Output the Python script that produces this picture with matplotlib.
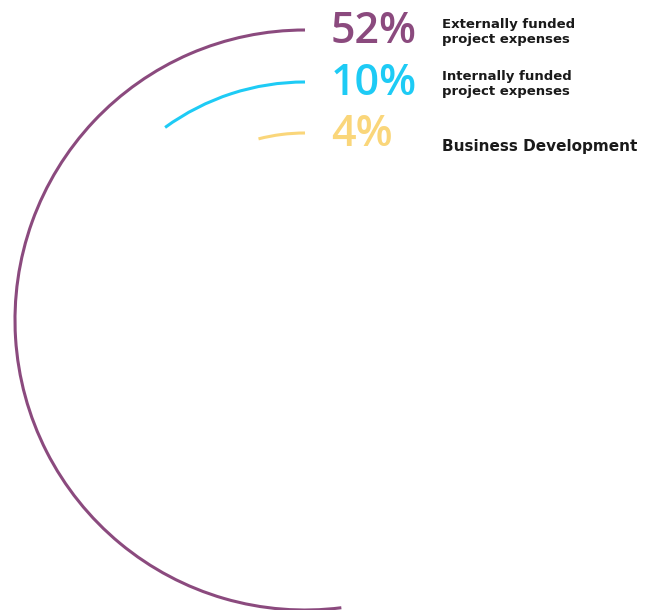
import matplotlib.pyplot as plt
from matplotlib.patches import Arc

# shares of total expenses (%)
shares = [52, 10, 4]
pct_labels = ['52%', '10%', '4%']
names = ['Externally funded\nproject expenses',
         'Internally funded\nproject expenses',
         'Business Development']
colors = ['#8b4a7e', '#1ecbf5', '#fad67a']

W, H = 659, 610
fig = plt.figure(figsize=(W / 100, H / 100), dpi=100)
ax = fig.add_axes([0, 0, 1, 1])
ax.set_xlim(0, W)
ax.set_ylim(0, H)
ax.axis('off')

cx, cy = 305, H - 320
radii = [290, 238, 187]
pct_y = [H - 43, H - 95, H - 146]
name_y = [H - 32, H - 84, H - 146]
name_size = [9.5, 9.5, 11]

for share, r, col, pl, nm, py, ny, ns in zip(shares, radii, colors, pct_labels,
                                              names, pct_y, name_y, name_size):
    arc = Arc((cx, cy), 2 * r, 2 * r, theta1=90, theta2=90 + 360 * share / 100,
              color=col, lw=2.2)
    ax.add_patch(arc)
    ax.text(331, py, pl, color=col, fontsize=31, fontweight=600,
            family='Open Sans', va='baseline', ha='left')
    ax.text(442, ny, nm, color='#1a1a1a', fontsize=ns, fontweight='bold',
            family='DejaVu Sans', va='center', ha='left', linespacing=1.15)

fig.savefig('out.png', dpi=100, facecolor='white')
